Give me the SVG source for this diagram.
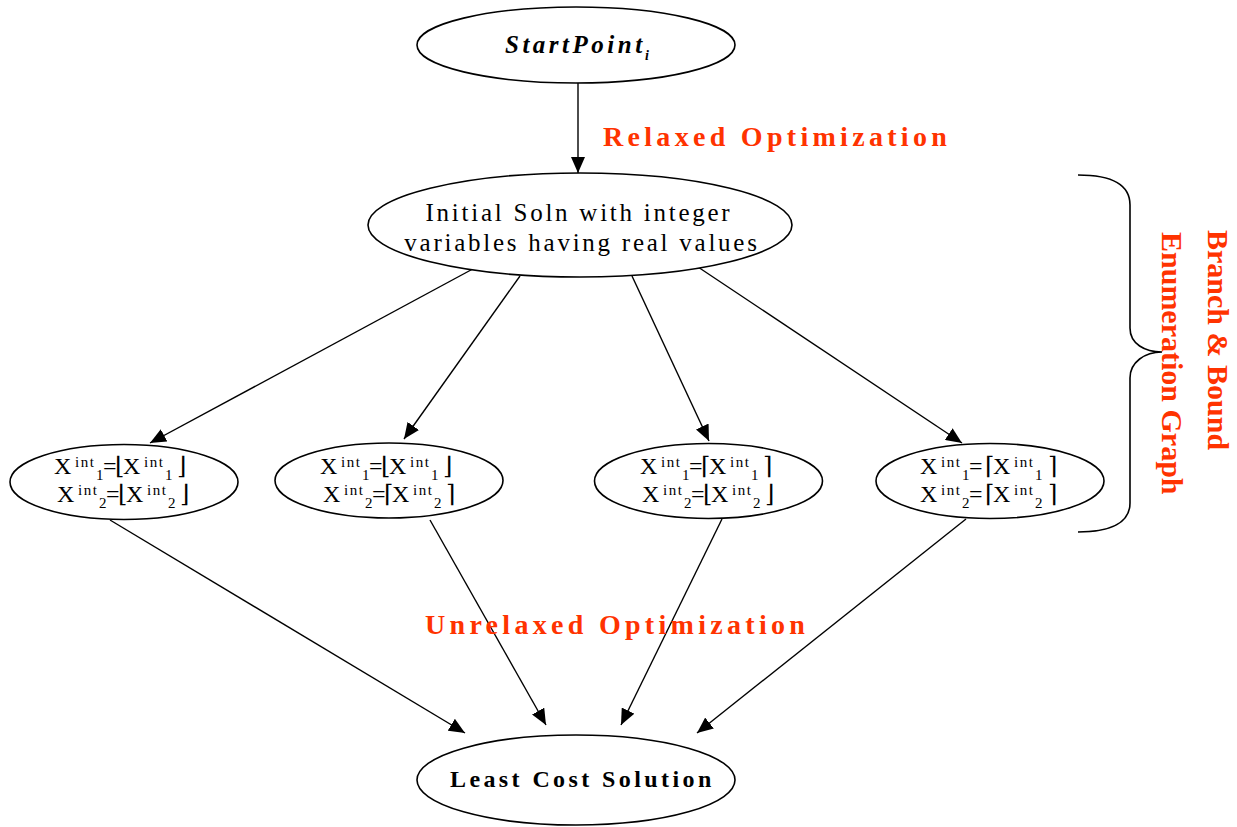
<svg xmlns="http://www.w3.org/2000/svg" width="1237" height="827" viewBox="0 0 1237 827">
  <defs>
    <marker id="arrow" markerUnits="userSpaceOnUse" markerWidth="18" markerHeight="14" refX="16" refY="7" orient="auto">
      <path d="M0,0 L16,7 L0,14 Z" fill="#000"/>
    </marker>
    <style>
      .node ellipse { fill: #fff; stroke: #000; stroke-width: 1.6; }
      .edges line { stroke: #000; stroke-width: 1.4; marker-end: url(#arrow); }
      .serif { font-family: "Liberation Serif", "Times New Roman", serif; fill: #000; }
      .title { font-size: 25px; letter-spacing: 2.75px; }
      .bold { font-weight: bold; }
      .red { fill: #ff3300; font-weight: bold; font-family: "Liberation Serif", "Times New Roman", serif; }
      .phase { font-size: 28px; letter-spacing: 4.3px; }
      .side { font-size: 30px; }
      .eq { font-family: "Liberation Serif", "Times New Roman", serif; font-size: 24px; fill: #000; }
      .eq .s { font-size: 15px; letter-spacing: 1.5px; }
      .eq .b { font-family: "DejaVu Serif", "Liberation Serif", serif; font-size: 24px; }
    </style>
  </defs>

  <rect width="1237" height="827" fill="#fff"/>

  <!-- connectors -->
  <g id="connectors" class="edges">
    <line x1="578" y1="83" x2="578" y2="173"/>
    <line x1="482" y1="264" x2="150" y2="443"/>
    <line x1="520" y1="276" x2="404" y2="439"/>
    <line x1="632" y1="276" x2="709" y2="441"/>
    <line x1="695" y1="265" x2="962" y2="443"/>
    <line x1="110" y1="520" x2="465" y2="733"/>
    <line x1="430" y1="520" x2="546" y2="725"/>
    <line x1="722" y1="519" x2="621" y2="725"/>
    <line x1="966" y1="519" x2="697" y2="733"/>
  </g>

  <!-- start node -->
  <g id="start" class="node">
    <ellipse cx="576" cy="45" rx="159" ry="38"/>
    <text class="serif bold" font-style="italic" font-size="25" letter-spacing="3.5" x="505" y="53">StartPoint<tspan font-size="14" letter-spacing="0" x="645" y="60">i</tspan></text>
  </g>

  <!-- relaxed solution node -->
  <g id="initial" class="node">
    <ellipse cx="580" cy="225" rx="212" ry="52"/>
    <text class="serif title" text-anchor="middle" x="579" y="221">Initial Soln with integer</text>
    <text class="serif title" text-anchor="middle" x="582" y="251">variables having real values</text>
  </g>

  <!-- branch nodes -->
  <g id="branch1" class="node">
    <ellipse cx="124" cy="482" rx="114" ry="37.5"/>
    <text class="eq" transform="translate(54,474)"><tspan x="0" y="0">X</tspan><tspan class="s" x="21" y="-7">int</tspan><tspan class="s" x="42" y="6">1</tspan><tspan x="49" y="0">=</tspan><tspan class="b" x="61" y="0">⌊</tspan><tspan x="69" y="0">X</tspan><tspan class="s" x="90" y="-7">int</tspan><tspan class="s" x="111" y="6">1</tspan><tspan class="b" x="123" y="0">⌋</tspan></text>
    <text class="eq" transform="translate(57,502)"><tspan x="0" y="0">X</tspan><tspan class="s" x="21" y="-7">int</tspan><tspan class="s" x="42" y="6">2</tspan><tspan x="49" y="0">=</tspan><tspan class="b" x="61" y="0">⌊</tspan><tspan x="69" y="0">X</tspan><tspan class="s" x="90" y="-7">int</tspan><tspan class="s" x="111" y="6">2</tspan><tspan class="b" x="123" y="0">⌋</tspan></text>
  </g>

  <g id="branch2" class="node">
    <ellipse cx="389" cy="480.5" rx="114" ry="37.5"/>
    <text class="eq" transform="translate(320,474)"><tspan x="0" y="0">X</tspan><tspan class="s" x="21" y="-7">int</tspan><tspan class="s" x="42" y="6">1</tspan><tspan x="49" y="0">=</tspan><tspan class="b" x="61" y="0">⌊</tspan><tspan x="69" y="0">X</tspan><tspan class="s" x="90" y="-7">int</tspan><tspan class="s" x="111" y="6">1</tspan><tspan class="b" x="123" y="0">⌋</tspan></text>
    <text class="eq" transform="translate(323,502)"><tspan x="0" y="0">X</tspan><tspan class="s" x="21" y="-7">int</tspan><tspan class="s" x="42" y="6">2</tspan><tspan x="49" y="0">=</tspan><tspan class="b" x="61" y="0">⌈</tspan><tspan x="69" y="0">X</tspan><tspan class="s" x="90" y="-7">int</tspan><tspan class="s" x="111" y="6">2</tspan><tspan class="b" x="123" y="0">⌉</tspan></text>
  </g>

  <g id="branch3" class="node">
    <ellipse cx="708.5" cy="481" rx="114" ry="37.5"/>
    <text class="eq" transform="translate(640,474)"><tspan x="0" y="0">X</tspan><tspan class="s" x="21" y="-7">int</tspan><tspan class="s" x="42" y="6">1</tspan><tspan x="49" y="0">=</tspan><tspan class="b" x="61" y="0">⌈</tspan><tspan x="69" y="0">X</tspan><tspan class="s" x="90" y="-7">int</tspan><tspan class="s" x="111" y="6">1</tspan><tspan class="b" x="123" y="0">⌉</tspan></text>
    <text class="eq" transform="translate(642,502)"><tspan x="0" y="0">X</tspan><tspan class="s" x="21" y="-7">int</tspan><tspan class="s" x="42" y="6">2</tspan><tspan x="49" y="0">=</tspan><tspan class="b" x="61" y="0">⌊</tspan><tspan x="69" y="0">X</tspan><tspan class="s" x="90" y="-7">int</tspan><tspan class="s" x="111" y="6">2</tspan><tspan class="b" x="123" y="0">⌋</tspan></text>
  </g>

  <g id="branch4" class="node">
    <ellipse cx="990" cy="481" rx="114" ry="37.5"/>
    <text class="eq" transform="translate(920,474)"><tspan x="0" y="0">X</tspan><tspan class="s" x="21" y="-7">int</tspan><tspan class="s" x="42" y="6">1</tspan><tspan x="49" y="0">=</tspan><tspan class="b" x="65" y="0">⌈</tspan><tspan x="73" y="0">X</tspan><tspan class="s" x="94" y="-7">int</tspan><tspan class="s" x="115" y="6">1</tspan><tspan class="b" x="128" y="0">⌉</tspan></text>
    <text class="eq" transform="translate(920,502)"><tspan x="0" y="0">X</tspan><tspan class="s" x="21" y="-7">int</tspan><tspan class="s" x="42" y="6">2</tspan><tspan x="49" y="0">=</tspan><tspan class="b" x="65" y="0">⌈</tspan><tspan x="73" y="0">X</tspan><tspan class="s" x="94" y="-7">int</tspan><tspan class="s" x="115" y="6">2</tspan><tspan class="b" x="128" y="0">⌉</tspan></text>
  </g>

  <!-- final node -->
  <g id="least-cost" class="node">
    <ellipse cx="576" cy="780" rx="159" ry="45"/>
    <text class="serif bold" font-size="24" letter-spacing="3.4" x="450" y="787">Least Cost Solution</text>
  </g>

  <!-- phase labels -->
  <g id="phase-labels">
    <text class="red phase" x="603" y="146">Relaxed Optimization</text>
    <text class="red phase" x="425" y="634">Unrelaxed Optimization</text>
  </g>

  <!-- brace grouping the branch-and-bound part -->
  <g id="brace">
    <path d="M1078,175 C1112,175 1130,185 1130,205 L1130,328 C1130,344 1145,352 1162,352 C1145,352 1130,362 1130,378 L1130,503 C1130,522 1112,532 1078,532" fill="none" stroke="#000" stroke-width="1.6"/>
    <text class="red side" transform="translate(1208,230) rotate(90)">Branch &amp; Bound</text>
    <text class="red side" transform="translate(1162,232) rotate(90)">Enumeration Graph</text>
  </g>
</svg>
